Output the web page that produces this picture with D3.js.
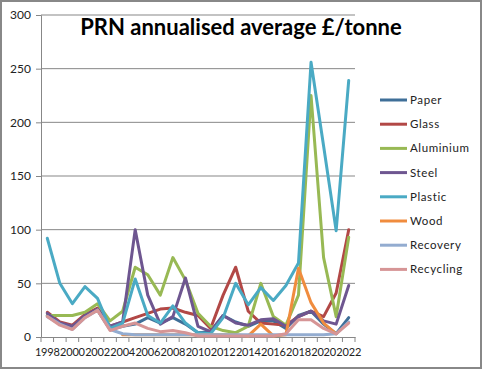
<!DOCTYPE html>
<html>
<head>
<meta charset="utf-8">
<script src="https://cdn.jsdelivr.net/npm/d3@7"></script>
<style>
  body { margin: 0; background: #fff; }
  svg { display: block; }
</style>
</head>
<body>
<svg width="483" height="371"></svg>
<script>
// data
var years = ["1998","1999","2000","2001","2002","2003","2004","2005","2006","2007","2008","2009","2010",
             "2011","2012","2013","2014","2015","2016","2017","2018","2019","2020","2021","2022"]
var yTicks = [0, 50, 100, 150, 200, 250, 300]

var paper     = [20,12,9,19,25,7,10,12,18,13,18,12,4,5,20,14,10,15,15,8,20,24,12,3,18]
var glass     = [23,14,11,21,27,10,14,18,22,26,27,23,20,8,39,65,24,13,12,11,19,24,19,41,100]
var aluminium = [20,20,20,23,31,15,24,65,58,39,74,53,22,10,6,4,10,50,19,11,39,225,74,19,93]
var steel     = [22,13,10,20,26,10,14,100,39,12,19,55,10,5,20,13,11,16,17,10,19,24,15,12,48]
var plastic   = [92,50,31,47,36,8,13,54,20,13,29,13,4,3,18,50,30,46,34,48,69,256,178,99,239]
var wood      = [null,null,null,null,null,null,2,2,2,2,2,2,2,2,2,2,1,12,1,2,64,32,13,3,null]
var recovery  = [19,12,7,18,25,7,3,2,2,2,2,2,2,2,2,2,2,2,2,2,2,2,2,3,14]
var recycling = [19,11,7,18,25,6,10,13,8,5,6,4,1,1,1,1,1,1,1,3,16,16,8,3,13]

var names  = ["Paper","Glass","Aluminium","Steel","Plastic","Wood","Recovery","Recycling"]
var series = [paper, glass, aluminium, steel, plastic, wood, recovery, recycling]
var colors = ["#3f6f98","#b24846","#98b954","#6e5690","#4aaac4","#f08c3e","#93acd0","#d69596"]

var svg = d3.select('svg')
var font = "Lato, 'Liberation Sans', sans-serif"

// chart border
svg.append('rect')
    .attr('x', 1).attr('y', 1)
    .attr('width', 480).attr('height', 367)
    .style('fill', '#fff')
    .style('stroke', '#888')
    .style('stroke-width', 2)

var plotLeft = 41, plotRight = 355, plotTop = 15, plotBottom = 337

var x = d3.scaleBand().domain(years).range([plotLeft, plotRight])
var y = d3.scaleLinear().domain([0, 300]).range([plotBottom, plotTop])

// gridlines
svg.append('g')
    .selectAll('line')
    .data(yTicks.filter(d => d > 0))
    .enter().append('line')
    .attr('x1', plotLeft).attr('x2', plotRight)
    .attr('y1', d => y(d)).attr('y2', d => y(d))
    .style('stroke', '#878787')
    .style('stroke-width', 1)

// y axis
var yAxis = svg.append('g')
    .attr('transform', `translate(${plotLeft},0)`)
    .call(d3.axisLeft(y).tickValues(yTicks).tickSize(5).tickPadding(5))
yAxis.select('.domain').style('stroke', '#878787')
yAxis.selectAll('line').style('stroke', '#878787')
yAxis.selectAll('text')
    .style('font-family', font).style('font-size', '12px').style('fill', '#222')

// x axis: ticks on category boundaries, labels every other year
var xAxis = svg.append('g')
    .attr('transform', `translate(0,${plotBottom})`)
    .call(d3.axisBottom(x).tickSize(0).tickPadding(11)
        .tickFormat((d, i) => i % 2 == 0 ? d : ''))
xAxis.select('.domain').style('stroke', '#878787')
xAxis.selectAll('text')
    .style('font-family', font).style('font-size', '11px').style('fill', '#222')
    .attr('letter-spacing', '-0.2px')

svg.append('g')
    .selectAll('line')
    .data(d3.range(years.length + 1))
    .enter().append('line')
    .attr('x1', i => plotLeft + i * x.step()).attr('x2', i => plotLeft + i * x.step())
    .attr('y1', plotBottom).attr('y2', plotBottom + 5)
    .style('stroke', '#878787')

// lines
var line = d3.line()
    .defined(d => d != null)
    .x((d, i) => x(years[i]) + x.bandwidth() / 2)
    .y(d => y(d))

svg.append('g')
    .selectAll('path')
    .data(series)
    .enter().append('path')
    .attr('d', d => line(d))
    .style('fill', 'none')
    .style('stroke', (d, i) => colors[i])
    .style('stroke-width', 3)
    .style('stroke-linejoin', 'round')
    .style('stroke-linecap', 'round')

// legend
var legend = svg.append('g')
    .selectAll('g')
    .data(names)
    .enter().append('g')
    .attr('transform', (d, i) => `translate(380,${100 + i * 24.2})`)

legend.append('line')
    .attr('x1', 0).attr('x2', 27)
    .style('stroke', (d, i) => colors[i])
    .style('stroke-width', 3)

legend.append('text')
    .attr('x', 30).attr('y', 4)
    .text(d => d)
    .style('font-family', font).style('font-size', '11.5px').style('fill', '#222')
    .attr('letter-spacing', '0.6px')

// title
svg.append('text')
    .attr('x', 241).attr('y', 35)
    .attr('text-anchor', 'middle')
    .text('PRN annualised average £/tonne')
    .style('font-family', font).style('font-size', '22px').style('font-weight', 'bold')
    .style('fill', '#000')
</script>
</body>
</html>
